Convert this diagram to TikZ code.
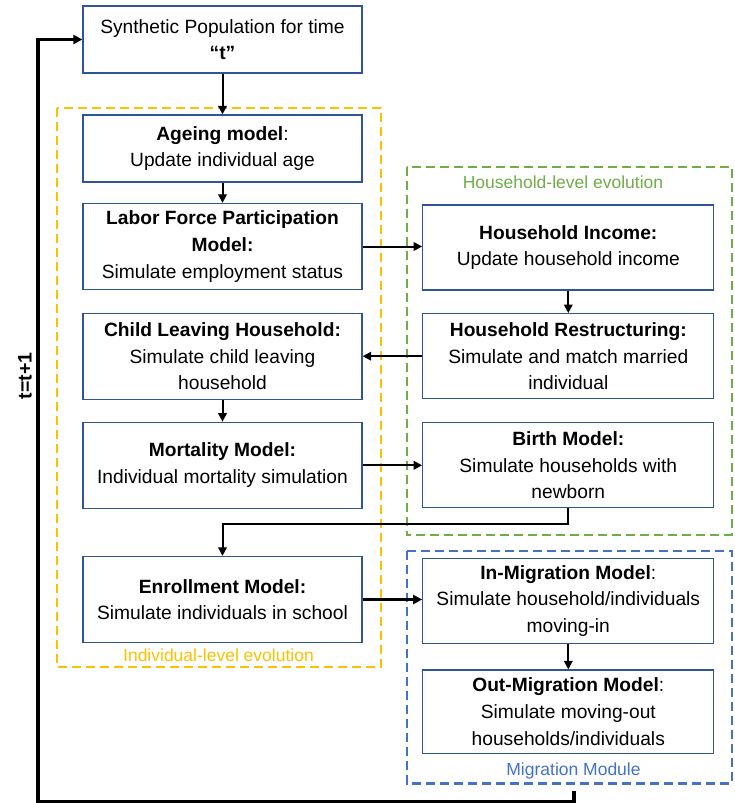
\documentclass[tikz,border=0pt]{standalone}
\usepackage{fontspec}
\setmainfont{Liberation Sans}
\usetikzlibrary{arrows.meta,calc}
\definecolor{boxblue}{RGB}{47,85,151}
\definecolor{gold}{RGB}{255,192,0}
\definecolor{leafgreen}{RGB}{112,173,71}
\definecolor{modblue}{RGB}{68,114,196}

\begin{document}
\begin{tikzpicture}[x=1pt,y=-1pt,
  txt/.style={font=\fontsize{19.2}{26.6}\selectfont},
  box/.style={draw=boxblue, line width=1.3pt, fill=white, align=center, txt, inner sep=2pt},
  lbox/.style={box, minimum width=279pt, minimum height=86pt},
  rbox/.style={box, minimum width=291pt, minimum height=85pt},
  grpframe/.style={line width=2.4pt, dash pattern=on 9pt off 5pt},
  grplabel/.style={font=\fontsize{17.5}{21}\selectfont},
  arr/.style={line width=2pt, -{Triangle[length=8.5pt,width=8.5pt]}},
  thickarr/.style={line width=3.2pt, -{Triangle[length=9pt,width=9pt]}},
]
\useasboundingbox (0,0) rectangle (734,803);

% group frames
\draw[grpframe, gold] (57,108) rectangle (381,667);
\draw[grpframe, leafgreen] (406.7,166.7) rectangle (731.7,535);
\draw[grpframe, modblue] (406.7,550.7) rectangle (731.7,783.3);
\node[grplabel, text=gold] (lblind) at (218.5,655) {Individual-level evolution};
\node[grplabel, text=leafgreen] (lblhh) at (563,182) {Household-level evolution};
\node[grplabel, text=modblue] (lblmig) at (573.5,771) {Migration Module};

% left column
\node[lbox, minimum height=67pt] (syn) at (222.5,39.5) {Synthetic Population for time\\\textbf{“t”}};
\node[lbox, minimum height=67pt] (age) at (222.5,148.5) {\textbf{Ageing model}:\\Update individual age};
\node[lbox] (lab) at (222.5,246.5) {\textbf{Labor Force Participation}\\\textbf{Model:}\\Simulate employment status};
\node[lbox] (chi) at (222.5,356.2) {\textbf{Child Leaving Household:}\\Simulate child leaving\\household};
\node[lbox] (mor) at (222.5,465.3) {\textbf{Mortality Model:}\\Individual mortality simulation};
\node[lbox] (enr) at (222.5,599.5) {\textbf{Enrollment Model:}\\Simulate individuals in school};

% right column
\node[rbox] (inc) at (568.3,247.5) {\textbf{Household Income:}\\Update household income};
\node[rbox] (res) at (568.3,356.2) {\textbf{Household Restructuring:}\\Simulate and match married\\individual};
\node[rbox] (bir) at (568.3,465.2) {\textbf{Birth Model:}\\Simulate households with\\newborn};
\node[rbox] (inm) at (568.3,600.8) {\textbf{In-Migration Model}:\\Simulate household/individuals\\moving-in};
\node[rbox, minimum height=83.3pt] (outm) at (568.3,711.7) {\textbf{Out-Migration Model}:\\Simulate moving-out\\households/individuals};

% time step label
\node[font=\fontsize{19.5}{22}\selectfont\bfseries, rotate=90] (step) at (25,376) {t=t+1};

% connectors
\draw[arr] (syn) -- (age);
\draw[arr] (age) -- (lab);
\draw[arr] (lab.east) -- (lab.east -| inc.west);
\draw[arr] (inc) -- (res);
\draw[arr] (res.west) -- (res.west -| chi.east);
\draw[arr] (chi) -- (mor);
\draw[arr] (mor.east) -- (mor.east -| bir.west);
\coordinate (bend) at (568.3,524);
\draw[arr] (bir.south) |- (bend) -| (enr.north);
\draw[thickarr] (enr.east) -- (enr.east -| inm.west);
\draw[arr] (inm) -- (outm);
\coordinate (loopstart) at (574,791);
\coordinate (loopcorner) at (38,801.5);
\draw[thickarr, line width=3.4pt] (loopstart) |- (loopcorner) |- (syn.west);
\end{tikzpicture}
\end{document}
